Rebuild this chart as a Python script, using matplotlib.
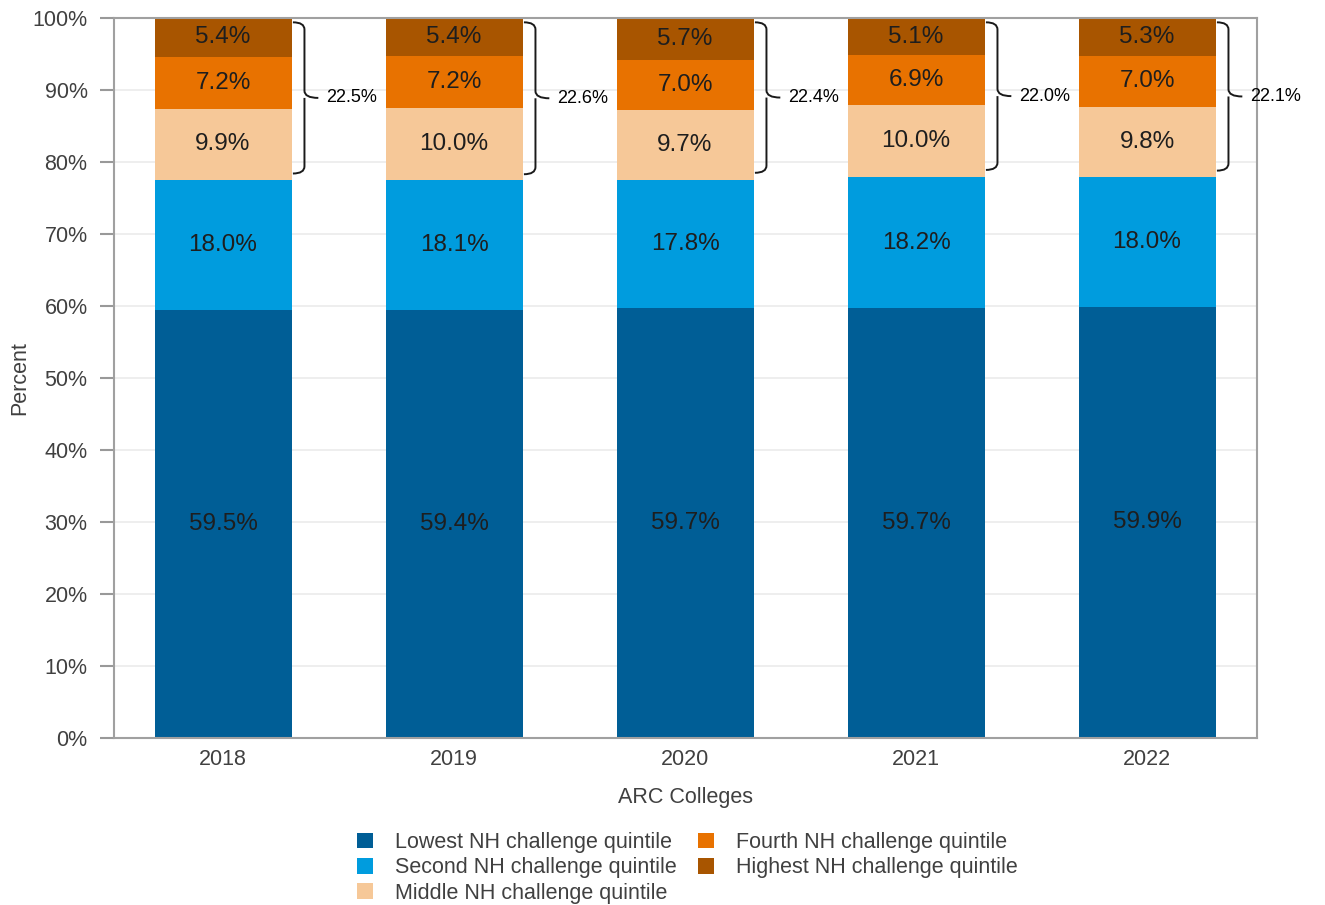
import numpy as np
import matplotlib
matplotlib.use("Agg")
import matplotlib.pyplot as plt
from matplotlib.path import Path
from matplotlib.patches import PathPatch

plt.rcParams['font.family'] = ['Liberation Sans', 'DejaVu Sans']

years = ['2018', '2019', '2020', '2021', '2022']
series_names = ['Lowest NH challenge quintile', 'Second NH challenge quintile',
                'Middle NH challenge quintile', 'Fourth NH challenge quintile',
                'Highest NH challenge quintile']
lowest = [59.5, 59.4, 59.7, 59.7, 59.9]
second = [18.0, 18.1, 17.8, 18.2, 18.0]
middle = [9.9, 10.0, 9.7, 10.0, 9.8]
fourth = [7.2, 7.2, 7.0, 6.9, 7.0]
highest = [5.4, 5.4, 5.7, 5.1, 5.3]
colors = ['#005e96', '#009cde', '#f6c898', '#e87200', '#a85500']

series = [lowest, second, middle, fourth, highest]

fig = plt.figure(figsize=(13.25, 9.05), dpi=100)
ax = fig.add_axes([114/1325, 1 - 738/905, (1257-114)/1325, (738-18)/905])

x = np.arange(len(years))
width = 0.593
bottom = np.zeros(len(years))
for vals, name, c in zip(series, series_names, colors):
    vals = np.array(vals)
    ax.bar(x, vals, width, bottom=bottom, color=c, label=name, zorder=2)
    for xi, b, v in zip(x, bottom, vals):
        ax.text(xi, b + v/2, f'{v:.1f}%', ha='center', va='center',
                fontsize=17.5, color='#1e1e1e', zorder=3)
    bottom += vals

# curly brackets for the top three quintiles
top3 = np.array(middle) + np.array(fourth) + np.array(highest)
for xi, tot in zip(x, top3):
    top = 100 - 0.6
    bot = 100 - tot + 0.9
    mid = (top + bot) / 2
    xe = xi + width/2 + 0.056
    hk = 0.05
    tip = 0.06
    r = 1.0
    verts = [(xe - hk, top), (xe, top), (xe, top - r),
             (xe, mid + r), (xe, mid), (xe + tip, mid),
             (xe, mid), (xe, mid - r),
             (xe, bot + r), (xe, bot), (xe - hk, bot)]
    codes = [Path.MOVETO, Path.CURVE3, Path.CURVE3,
             Path.LINETO, Path.CURVE3, Path.CURVE3,
             Path.MOVETO, Path.LINETO,
             Path.LINETO, Path.CURVE3, Path.CURVE3]
    ax.add_patch(PathPatch(Path(verts, codes), fill=False, lw=1.4,
                           edgecolor='#1a1a1a', clip_on=False, zorder=3))
    ax.text(xe + tip + 0.035, mid, f'{tot:.1f}%', ha='left', va='center',
            fontsize=13, color='black', clip_on=False)

ax.set_xlim(-0.472, 4.476)
ax.set_ylim(0, 100)
ax.set_yticks(np.arange(0, 101, 10))
ax.set_yticklabels([f'{v}%' for v in range(0, 101, 10)])
ax.set_xticks(x)
ax.set_xticklabels(years)
ax.tick_params(axis='y', length=10, width=1.5, color='#999999',
               labelsize=15.5, labelcolor='#404040', pad=9)
ax.tick_params(axis='x', length=0, labelsize=15.5, labelcolor='#404040', pad=8)
ax.yaxis.grid(True, color='#ebebeb', lw=1.2, zorder=0)
ax.set_axisbelow(True)
for s in ax.spines.values():
    s.set_color('#a0a0a0')
    s.set_linewidth(1.5)

ax.set_ylabel('Percent', fontsize=15.5, color='#404040')
ax.yaxis.set_label_coords(-0.073, 0.5)
ax.set_xlabel('ARC Colleges', fontsize=15.5, color='#404040', labelpad=12)

fig.legend(loc='upper center', bbox_to_anchor=(687.5/1325, 1 - 817/905), ncol=2,
           frameon=False, fontsize=15.5, handlelength=0.75, handleheight=0.75,
           labelspacing=0.2, columnspacing=1.0, handletextpad=1.0,
           borderpad=0.2, labelcolor='#404040')

fig.savefig('out.png', dpi=100)
